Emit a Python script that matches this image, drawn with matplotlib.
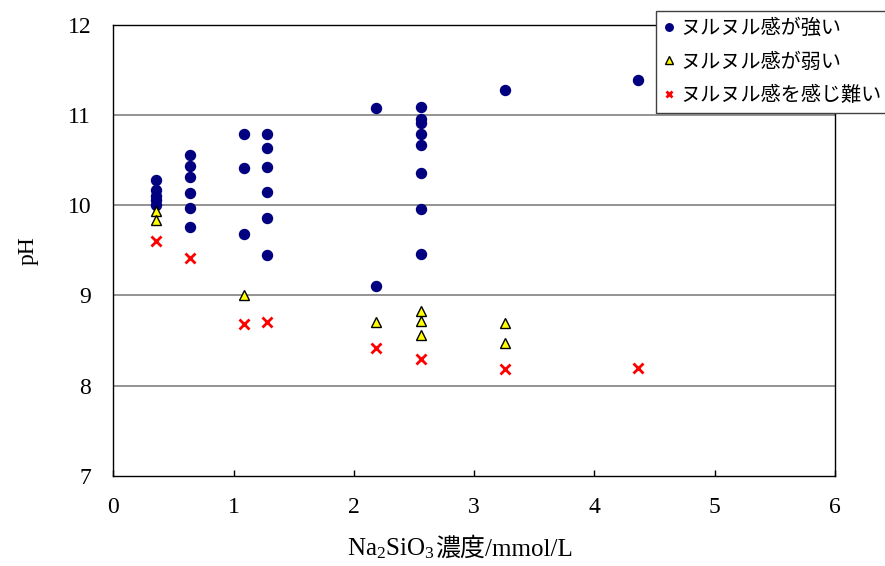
import matplotlib
matplotlib.use("Agg")
import matplotlib.pyplot as plt

plt.rcParams["mathtext.fontset"] = "custom"
plt.rcParams["mathtext.rm"] = "Liberation Serif"
plt.rcParams["mathtext.it"] = "Liberation Serif:italic"

# Na2SiO3 concentration (mmol/L) and pH for each slipperiness rating
strong_x = [0.35, 0.35, 0.35, 0.35, 0.35,
            0.64, 0.64, 0.64, 0.64, 0.64, 0.64,
            1.09, 1.09, 1.09,
            1.28, 1.28, 1.28, 1.28, 1.28, 1.28,
            2.18, 2.18,
            2.56, 2.56, 2.56, 2.56, 2.56, 2.56, 2.56, 2.56,
            3.26, 4.36]
strong_y = [10.28, 10.17, 10.10, 10.06, 10.00,
            10.55, 10.43, 10.31, 10.13, 9.97, 9.76,
            10.79, 10.41, 9.68,
            10.79, 10.63, 10.42, 10.15, 9.86, 9.45,
            11.08, 9.10,
            11.09, 10.95, 10.91, 10.79, 10.67, 10.36, 9.96, 9.46,
            11.27, 11.38]

weak_x = [0.35, 0.35, 1.09, 2.18, 2.56, 2.56, 2.56, 3.26, 3.26]
weak_y = [9.93, 9.83, 9.00, 8.70, 8.83, 8.72, 8.56, 8.69, 8.47]

none_x = [0.35, 0.64, 1.09, 1.28, 2.18, 2.56, 3.26, 4.36]
none_y = [9.60, 9.41, 8.68, 8.70, 8.42, 8.30, 8.19, 8.20]

labels = ["ヌルヌル感が強い", "ヌルヌル感が弱い", "ヌルヌル感を感じ難い"]
x_ticks = [0, 1, 2, 3, 4, 5, 6]
y_ticks = [7, 8, 9, 10, 11, 12]

serif = ["Liberation Serif", "Noto Sans CJK JP"]
jp = ["Noto Sans CJK JP", "DejaVu Sans"]

fig = plt.figure(figsize=(8.85, 5.66), dpi=100)
ax = fig.add_axes([0.1282, 0.159, 0.815, 0.7977])

ax.set_xlim(0, 6)
ax.set_ylim(7, 12)

for y in [8, 9, 10, 11]:
    ax.axhline(y, color="#808080", linewidth=1.2, zorder=1)

ax.plot(strong_x, strong_y, linestyle="none", marker="o", markersize=7.2,
        color="#000080", label=labels[0], zorder=3)
ax.plot(weak_x, weak_y, linestyle="none", marker="^", markersize=7,
        markerfacecolor="#ffff00", markeredgecolor="black", markeredgewidth=1,
        label=labels[1], zorder=3)
ax.plot(none_x, none_y, linestyle="none", marker="x", markersize=6.5,
        markeredgewidth=2, color="#ff0000", label=labels[2], zorder=3)

ax.set_xticks(x_ticks)
ax.set_yticks(y_ticks)
ax.tick_params(axis="x", direction="in", length=4, width=1, pad=15)
ax.tick_params(axis="y", length=0, pad=16)
for lab in ax.get_xticklabels() + ax.get_yticklabels():
    lab.set_family(serif)
    lab.set_fontsize(17)

for s in ax.spines.values():
    s.set_color("black")
    s.set_linewidth(1)

# x-axis title: chemical formula with subscripts, then the Japanese part
formula = fig.text(347 / 885, 1 - 555 / 566, "Na$_2$SiO$_3$", fontsize=18,
                   family="Liberation Serif", ha="left", va="baseline")
fig.canvas.draw()
ax.annotate("濃度/mmol/L", xy=(1, 0), xycoords=formula, xytext=(0, 0),
            textcoords="offset points", fontsize=18, family=serif,
            ha="left", va="bottom", annotation_clip=False)

ax.set_ylabel("pH", fontsize=17, family=serif, labelpad=21)

leg = fig.legend(loc="upper left", bbox_to_anchor=(656 / 885, 1 - 11 / 566),
                 prop={"family": jp, "size": 14.5}, frameon=True, fancybox=False,
                 edgecolor="#404040", framealpha=1, handlelength=0.55,
                 handletextpad=0.3, borderpad=0.35, labelspacing=0.62,
                 markerscale=0.75, borderaxespad=0)
leg.get_frame().set_linewidth(1)

fig.savefig("out.png", dpi=100)
